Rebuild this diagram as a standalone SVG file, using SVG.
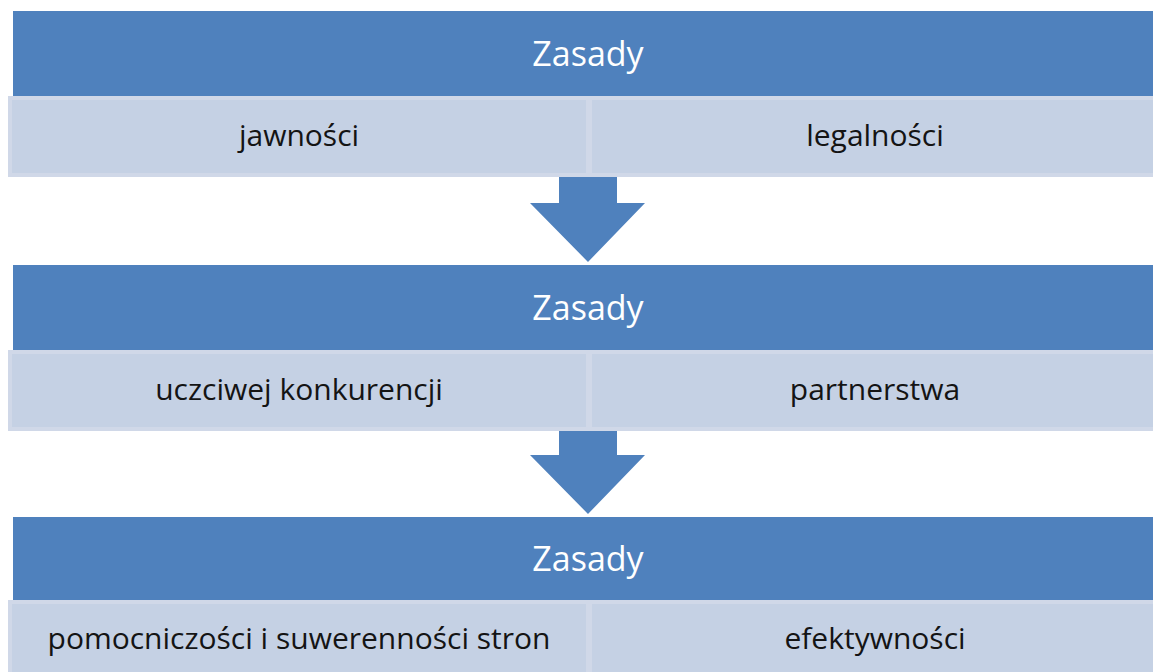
<svg xmlns="http://www.w3.org/2000/svg" width="1153" height="672" viewBox="0 0 1153 672">
  <style>
    .head { fill: #4f81bd; }
    .cell { fill: #c5d1e4; stroke: #d0d8e8; stroke-width: 4; }
    .arrow { fill: #4f81bd; }
    .title { font-family: "Open Sans", "Liberation Sans", sans-serif; font-size: 34px; fill: #ffffff; text-anchor: middle; }
    .label { font-family: "Open Sans", "Liberation Sans", sans-serif; font-size: 30px; fill: #141414; text-anchor: middle; }
  </style>

  <!-- connectors: block arrows between the tiers -->
  <g id="connectors">
    <polygon class="arrow" points="559,177 617,177 617,203 645,203 588,262 530,203 559,203"/>
    <polygon class="arrow" points="559,430 617,430 617,455 645,455 588,514 530,455 559,455"/>
  </g>

  <!-- tier 1 -->
  <g id="tier1">
    <rect class="head" x="13" y="11" width="1150" height="85"/>
    <text class="title" x="588" y="66">Zasady</text>
    <rect class="cell" x="10" y="98" width="578" height="77"/>
    <rect class="cell" x="590" y="98" width="573" height="77"/>
    <text class="label" x="299" y="146">jawności</text>
    <text class="label" x="875" y="146">legalności</text>
  </g>

  <!-- tier 2 -->
  <g id="tier2">
    <rect class="head" x="13" y="265" width="1150" height="85"/>
    <text class="title" x="588" y="320">Zasady</text>
    <rect class="cell" x="10" y="352" width="578" height="77"/>
    <rect class="cell" x="590" y="352" width="573" height="77"/>
    <text class="label" x="299" y="400">uczciwej konkurencji</text>
    <text class="label" x="875" y="400">partnerstwa</text>
  </g>

  <!-- tier 3 -->
  <g id="tier3">
    <rect class="head" x="13" y="517" width="1150" height="83"/>
    <text class="title" x="588" y="571">Zasady</text>
    <rect class="cell" x="10" y="602" width="578" height="77"/>
    <rect class="cell" x="590" y="602" width="573" height="77"/>
    <text class="label" x="299" y="649">pomocniczości i suwerenności stron</text>
    <text class="label" x="875" y="649">efektywności</text>
  </g>
</svg>
